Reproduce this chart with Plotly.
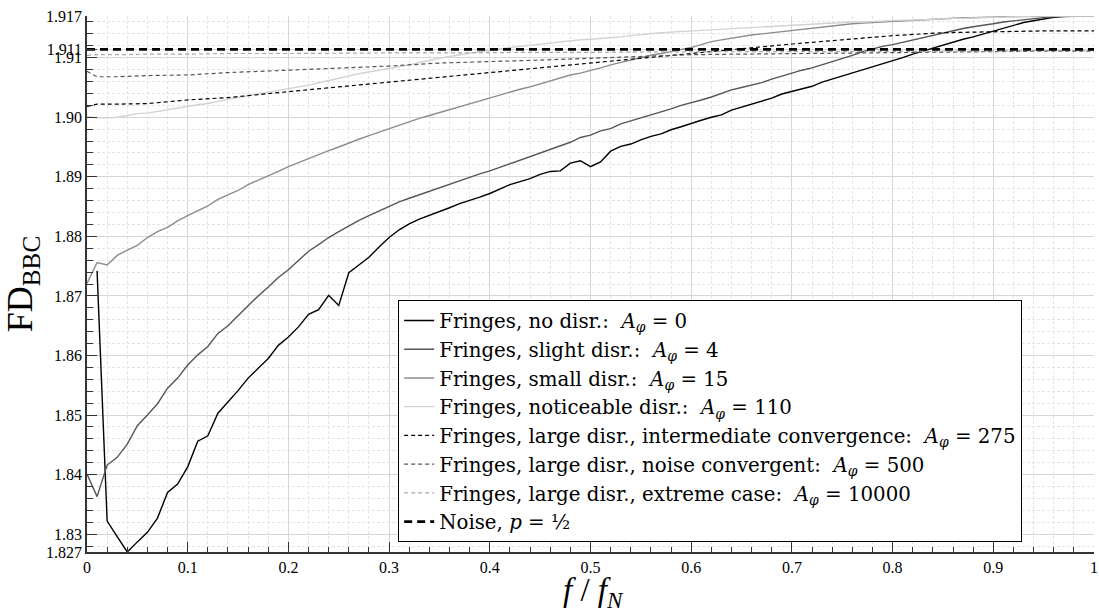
import plotly.graph_objects as go
import numpy as np

# ---------------- data ----------------
x = [round(i * 0.01, 2) for i in range(101)]

fd_a0 = [None, 1.8742, 1.8322, 1.8296, 1.8270, 1.8287, 1.8303, 1.8327, 1.8370, 1.8384,
         1.8413, 1.8456, 1.8465, 1.8503, 1.8522, 1.8541, 1.8562, 1.8578, 1.8595, 1.8617,
         1.8631, 1.8648, 1.8669, 1.8677, 1.8701, 1.8684, 1.8739, 1.8752, 1.8765, 1.8782,
         1.8798, 1.8811, 1.8821, 1.8829, 1.8835, 1.8841, 1.8848, 1.8855, 1.8860, 1.8866,
         1.8872, 1.8879, 1.8887, 1.8892, 1.8897, 1.8904, 1.8909, 1.8910, 1.8923, 1.8927,
         1.8917, 1.8925, 1.8943, 1.8951, 1.8955, 1.8962, 1.8968, 1.8972, 1.8979, 1.8984,
         1.8990, 1.8995, 1.9000, 1.9004, 1.9012, 1.9017, 1.9022, 1.9026, 1.9032, 1.9039,
         1.9043, 1.9047, 1.9052, 1.9059, 1.9064, 1.9070, 1.9074, 1.9079, 1.9085, 1.9089,
         1.9095, 1.9100, 1.9106, 1.9111, 1.9117, 1.9122, 1.9127, 1.9131, 1.9135, 1.9140,
         1.9145, 1.9150, 1.9155, 1.9159, 1.9162, 1.9165, 1.9168, 1.9169, 1.9170, 1.9170,
         1.9170]

fd_a4 = [1.8401, 1.8363, 1.8416, 1.8429, 1.8451, 1.8482, 1.8500, 1.8519, 1.8545, 1.8562,
         1.8584, 1.8601, 1.8615, 1.8637, 1.8650, 1.8667, 1.8684, 1.8700, 1.8715, 1.8731,
         1.8744, 1.8760, 1.8775, 1.8786, 1.8798, 1.8808, 1.8818, 1.8827, 1.8835, 1.8843,
         1.8851, 1.8858, 1.8864, 1.8870, 1.8875, 1.8881, 1.8887, 1.8893, 1.8899, 1.8905,
         1.8910, 1.8916, 1.8922, 1.8927, 1.8933, 1.8939, 1.8945, 1.8952, 1.8958, 1.8966,
         1.8970, 1.8977, 1.8981, 1.8989, 1.8994, 1.8998, 1.9004, 1.9009, 1.9014, 1.9020,
         1.9024, 1.9029, 1.9034, 1.9040, 1.9046, 1.9050, 1.9054, 1.9058, 1.9064, 1.9069,
         1.9075, 1.9079, 1.9083, 1.9088, 1.9093, 1.9098, 1.9104, 1.9110, 1.9115, 1.9119,
         1.9122, 1.9126, 1.9130, 1.9134, 1.9138, 1.9142, 1.9145, 1.9149, 1.9152, 1.9154,
         1.9157, 1.9160, 1.9162, 1.9164, 1.9166, 1.9168, 1.9169, 1.9170, 1.9170, 1.9170,
         1.9170]

fd_a15 = [1.8721, 1.8756, 1.8752, 1.8768, 1.8777, 1.8785, 1.8798, 1.8808, 1.8815, 1.8826,
          1.8835, 1.8843, 1.8851, 1.8862, 1.8870, 1.8877, 1.8887, 1.8894, 1.8901, 1.8909,
          1.8917, 1.8924, 1.8931, 1.8937, 1.8944, 1.8950, 1.8957, 1.8963, 1.8969, 1.8975,
          1.8980, 1.8987, 1.8993, 1.8998, 1.9003, 1.9008, 1.9013, 1.9018, 1.9023, 1.9027,
          1.9032, 1.9038, 1.9043, 1.9047, 1.9051, 1.9056, 1.9061, 1.9066, 1.9071, 1.9074,
          1.9078, 1.9083, 1.9088, 1.9092, 1.9097, 1.9101, 1.9104, 1.9107, 1.9110, 1.9113,
          1.9117, 1.9122, 1.9127, 1.9130, 1.9133, 1.9136, 1.9138, 1.9140, 1.9142, 1.9144,
          1.9146, 1.9148, 1.9150, 1.9151, 1.9153, 1.9155, 1.9157, 1.9158, 1.9159, 1.9160,
          1.9161, 1.9162, 1.9163, 1.9163, 1.9164, 1.9165, 1.9166, 1.9167, 1.9167, 1.9168,
          1.9168, 1.9169, 1.9169, 1.9169, 1.9170, 1.9170, 1.9170, 1.9170, 1.9170, 1.9170,
          1.9170]

fd_a110 = [1.9001, 1.8999, 1.8999, 1.9000, 1.9003, 1.9006, 1.9007, 1.9010, 1.9013, 1.9015,
           1.9018, 1.9021, 1.9023, 1.9027, 1.9030, 1.9033, 1.9036, 1.9039, 1.9041, 1.9044,
           1.9047, 1.9050, 1.9054, 1.9058, 1.9062, 1.9066, 1.9069, 1.9073, 1.9076, 1.9079,
           1.9081, 1.9085, 1.9088, 1.9092, 1.9096, 1.9099, 1.9102, 1.9105, 1.9107, 1.9110,
           1.9112, 1.9115, 1.9117, 1.9119, 1.9121, 1.9123, 1.9125, 1.9126, 1.9128, 1.9130,
           1.9131, 1.9132, 1.9134, 1.9135, 1.9137, 1.9139, 1.9141, 1.9142, 1.9143, 1.9144,
           1.9144, 1.9145, 1.9146, 1.9147, 1.9148, 1.9149, 1.9150, 1.9152, 1.9153, 1.9154,
           1.9155, 1.9156, 1.9157, 1.9158, 1.9158, 1.9159, 1.9160, 1.9160, 1.9161, 1.9162,
           1.9162, 1.9163, 1.9163, 1.9164, 1.9165, 1.9165, 1.9166, 1.9166, 1.9167, 1.9167,
           1.9168, 1.9168, 1.9169, 1.9169, 1.9170, 1.9170, 1.9170, 1.9170, 1.9170, 1.9170,
           1.9170]

x_dash = [0.00, 0.01, 0.03, 0.06, 0.10, 0.14, 0.20, 0.25, 0.30, 0.35, 0.40, 0.45,
          0.50, 0.55, 0.60, 0.65, 0.70, 0.75, 0.80, 0.85, 0.90, 0.95, 1.00]
fd_a275 = [1.9018, 1.9022, 1.9022, 1.9023, 1.9029, 1.9033, 1.9043, 1.9051, 1.9059, 1.9068,
           1.9075, 1.9083, 1.9092, 1.9100, 1.9107, 1.9115, 1.9123, 1.9130, 1.9137, 1.9142,
           1.9144, 1.9145, 1.9145]
fd_a500 = [1.9077, 1.9068, 1.9068, 1.9070, 1.9071, 1.9075, 1.9079, 1.9082, 1.9086, 1.9091,
           1.9093, 1.9096, 1.9099, 1.9102, 1.9105, 1.9106, 1.9107, 1.9108, 1.9109, 1.9110,
           1.9110, 1.9111, 1.9111]
fd_a10000 = [1.9104, 1.9105, 1.9105, 1.9106, 1.9106, 1.9107, 1.9107, 1.9108, 1.9108, 1.9108,
             1.9109, 1.9109, 1.9109, 1.9110, 1.9110, 1.9110, 1.9110, 1.9111, 1.9111, 1.9111,
             1.9111, 1.9112, 1.9112]

x_noise = [0.0, 1.0]
fd_noise = [1.9114, 1.9114]

y_tickvals = [1.827, 1.83, 1.84, 1.85, 1.86, 1.87, 1.88, 1.89, 1.90, 1.91, 1.9114, 1.917]
y_ticktext = ["1.827", "1.83", "1.84", "1.85", "1.86", "1.87", "1.88", "1.89", "1.90",
              "1.91", "1.911", "1.917"]
x_tickvals = [0, 0.1, 0.2, 0.3, 0.4, 0.5, 0.6, 0.7, 0.8, 0.9, 1.0]
x_ticktext = ["0", "0.1", "0.2", "0.3", "0.4", "0.5", "0.6", "0.7", "0.8", "0.9", "1"]

# ---------------- figure ----------------
SERIF = "Liberation Serif"
LEG_FONT = "DejaVu Serif"
A = "<i>A</i><sub><i>φ</i></sub>"

series = [
    (x, fd_a0, f"Fringes, no disr.:  {A} = 0", "#000000", 1.4, "solid"),
    (x, fd_a4, f"Fringes, slight disr.:  {A} = 4", "#555555", 1.4, "solid"),
    (x, fd_a15, f"Fringes, small disr.:  {A} = 15", "#8c8c8c", 1.4, "solid"),
    (x, fd_a110, f"Fringes, noticeable disr.:  {A} = 110", "#d2d2d2", 1.4, "solid"),
    (x_dash, fd_a275, f"Fringes, large disr., intermediate convergence:  {A} = 275", "#000000", 1.2, "4px,3px"),
    (x_dash, fd_a500, f"Fringes, large disr., noise convergent:  {A} = 500", "#555555", 1.2, "4px,3px"),
    (x_dash, fd_a10000, f"Fringes, large disr., extreme case:  {A} = 10000", "#a8a8a8", 1.2, "4px,3px"),
    (x_noise, fd_noise, "Noise, <i>p</i> = ½", "#000000", 2.6, "8px,5px"),
]

fig = go.Figure()
for xs, ys, name, color, w, dash in series:
    fig.add_trace(go.Scatter(x=xs, y=ys, mode="lines", name=name,
                             line=dict(color=color, width=w, dash=dash),
                             connectgaps=False))

y_minor = [round(v, 3) for v in np.arange(1.828, 1.9165, 0.002)]
x_minor = [round(v, 2) for v in np.arange(0.0, 1.001, 0.02)]

fig.update_layout(
    width=1099, height=615,
    margin=dict(l=87, r=5, t=16, b=63),
    paper_bgcolor="white", plot_bgcolor="white",
    font=dict(family=SERIF, size=16, color="black"),
    showlegend=True,
    legend=dict(
        x=0.309, y=0.47, xanchor="left", yanchor="top",
        bgcolor="white", bordercolor="black", borderwidth=1,
        font=dict(family=LEG_FONT, size=19.8, color="black"),
        itemwidth=30, tracegroupgap=0,
    ),
    xaxis=dict(
        range=[0, 1], tickmode="array", tickvals=x_tickvals, ticktext=x_ticktext,
        ticks="inside", ticklen=10, tickwidth=1, tickcolor="#333",
        showline=True, linecolor="#333", linewidth=1.5, mirror=False,
        showgrid=True, gridcolor="#d6d6d6", gridwidth=1, zeroline=False,
        tickfont=dict(family=SERIF, size=16), automargin=False,
        ticklabeloverflow="allow",
        minor=dict(tickmode="array", tickvals=x_minor, ticks="inside", ticklen=5,
                   tickcolor="#333", showgrid=True, gridcolor="#e4e4e4", griddash="3px,2px",
                   gridwidth=1),
    ),
    yaxis=dict(
        range=[1.827, 1.917], tickmode="array", tickvals=y_tickvals, ticktext=y_ticktext,
        ticks="inside", ticklen=10, tickwidth=1, tickcolor="#333",
        showline=True, linecolor="#333", linewidth=1.5, mirror=False,
        showgrid=True, gridcolor="#d6d6d6", gridwidth=1, zeroline=False,
        tickfont=dict(family=SERIF, size=16), automargin=False,
        ticklabeloverflow="allow",
        minor=dict(tickmode="array", tickvals=y_minor, ticks="inside", ticklen=6,
                   tickcolor="#333", showgrid=True, gridcolor="#e4e4e4", griddash="3px,2px",
                   gridwidth=1),
        title=dict(text="FD<sub>BBC</sub>", font=dict(family=SERIF, size=36), standoff=6),
    ),
    annotations=[dict(
        text="<i>f</i> / <i>f</i><sub><i>N</i></sub>",
        xref="paper", yref="paper", x=0.503, y=-0.076,
        xanchor="center", yanchor="middle", showarrow=False,
        font=dict(family=SERIF, size=33, color="black"),
    )],
)

# remove the default 8px page margin so the figure fills the window exactly
fig.write_html("out.html", config={"displayModeBar": False},
               post_script="document.body.style.margin='0';document.body.style.overflow='hidden';")
